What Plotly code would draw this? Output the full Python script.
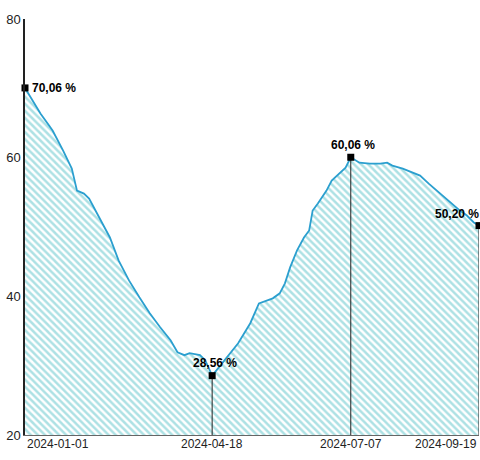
import plotly.graph_objects as go

dates = ["2024-01-01","2024-01-10","2024-01-15","2024-01-17","2024-01-23","2024-01-28","2024-01-31",
         "2024-02-04","2024-02-07","2024-02-13","2024-02-19","2024-02-24","2024-03-01","2024-03-07",
         "2024-03-13","2024-03-19","2024-03-25","2024-03-29","2024-04-02","2024-04-05","2024-04-11",
         "2024-04-14","2024-04-16","2024-04-18","2024-04-22","2024-04-26","2024-04-30","2024-05-03",
         "2024-05-10","2024-05-15","2024-05-23","2024-05-27","2024-05-30","2024-06-02","2024-06-06",
         "2024-06-10","2024-06-13","2024-06-15","2024-06-18","2024-06-23","2024-06-26","2024-06-30",
         "2024-07-04","2024-07-07","2024-07-12","2024-07-18","2024-07-24","2024-07-28","2024-07-31",
         "2024-08-06","2024-08-12","2024-08-16","2024-08-21","2024-08-27","2024-09-02","2024-09-08",
         "2024-09-12","2024-09-16","2024-09-19"]
values = [70.06,66.33,64.60,63.88,61.01,58.42,55.25,
          54.82,54.10,51.37,48.49,45.18,42.30,39.86,
          37.55,35.54,33.67,31.94,31.51,31.80,31.51,
          30.79,29.78,28.56,29.78,31.08,32.23,33.24,
          36.12,38.99,39.71,40.43,41.87,44.17,46.62,
          48.49,49.50,52.37,53.38,55.25,56.69,57.70,
          58.56,60.06,59.28,59.14,59.14,59.28,58.85,
          58.42,57.84,57.41,56.26,54.96,53.53,52.37,
          51.65,50.65,50.20]

hl_dates = ["2024-01-01","2024-04-18","2024-07-07","2024-09-19"]
hl_values = [70.06,28.56,60.06,50.20]
hl_labels = ["70,06 %","28,56 %","60,06 %","50,20 %"]

x_ticks = ["2024-01-01","2024-04-18","2024-07-07","2024-09-19"]
y_ticks = [20,40,60,80]

fig = go.Figure()
fig.add_trace(go.Scatter(
    x=dates, y=values, mode="lines", fill="tozeroy",
    line=dict(color="#2b9fcf", width=1.8),
    fillcolor="rgba(0,0,0,0)",
    fillpattern=dict(shape="\\", fgcolor="#5cc4c9", bgcolor="white", size=5, solidity=0.5),
    hoverinfo="skip"))

for d, v in zip(hl_dates[1:], hl_values[1:]):
    fig.add_trace(go.Scatter(x=[d, d], y=[20, v], mode="lines",
                             line=dict(color="#222", width=1), hoverinfo="skip"))

fig.add_trace(go.Scatter(x=hl_dates, y=hl_values, mode="markers",
                         marker=dict(symbol="square", size=7, color="black"),
                         cliponaxis=False, hoverinfo="skip"))

label_pos = [
    dict(xanchor="left", yanchor="middle", xshift=5, yshift=0),
    dict(xanchor="center", yanchor="bottom", xshift=3, yshift=4),
    dict(xanchor="center", yanchor="bottom", xshift=2, yshift=3),
    dict(xanchor="right", yanchor="bottom", xshift=2, yshift=3),
]
for d, v, t, p in zip(hl_dates, hl_values, hl_labels, label_pos):
    fig.add_annotation(x=d, y=v, text="<b>" + t + "</b>", showarrow=False,
                       font=dict(family="Liberation Sans, Arial", size=12, color="black"), **p)

tick_anchor = ["left", "center", "center", "right"]
for d, a in zip(x_ticks, tick_anchor):
    fig.add_annotation(x=d, y=0, xref="x", yref="paper", text=d, showarrow=False,
                       xanchor=a, yanchor="top", yshift=0,
                       font=dict(family="Liberation Sans, Arial", size=12, color="#222"))

fig.update_layout(
    width=480, height=460,
    margin=dict(l=25, r=1, t=19, b=25),
    paper_bgcolor="white", plot_bgcolor="white",
    showlegend=False,
    font=dict(family="Liberation Sans, Arial", size=12, color="#222"),
    xaxis=dict(range=["2024-01-01", "2024-09-19"], showgrid=False, zeroline=False,
               showticklabels=False, ticks="", showline=True, linecolor="#666", linewidth=1),
    yaxis=dict(range=[20, 80], tickvals=y_ticks, showgrid=False, zeroline=False,
               ticks="", showline=True, linecolor="#222", linewidth=1.5,
               tickfont=dict(size=13, color="#222")),
)

fig.write_html(
    "out.html",
    config={"displayModeBar": False},
    post_script="document.body.style.margin='0';document.body.style.overflow='hidden';"
                "document.documentElement.style.overflow='hidden';",
)
